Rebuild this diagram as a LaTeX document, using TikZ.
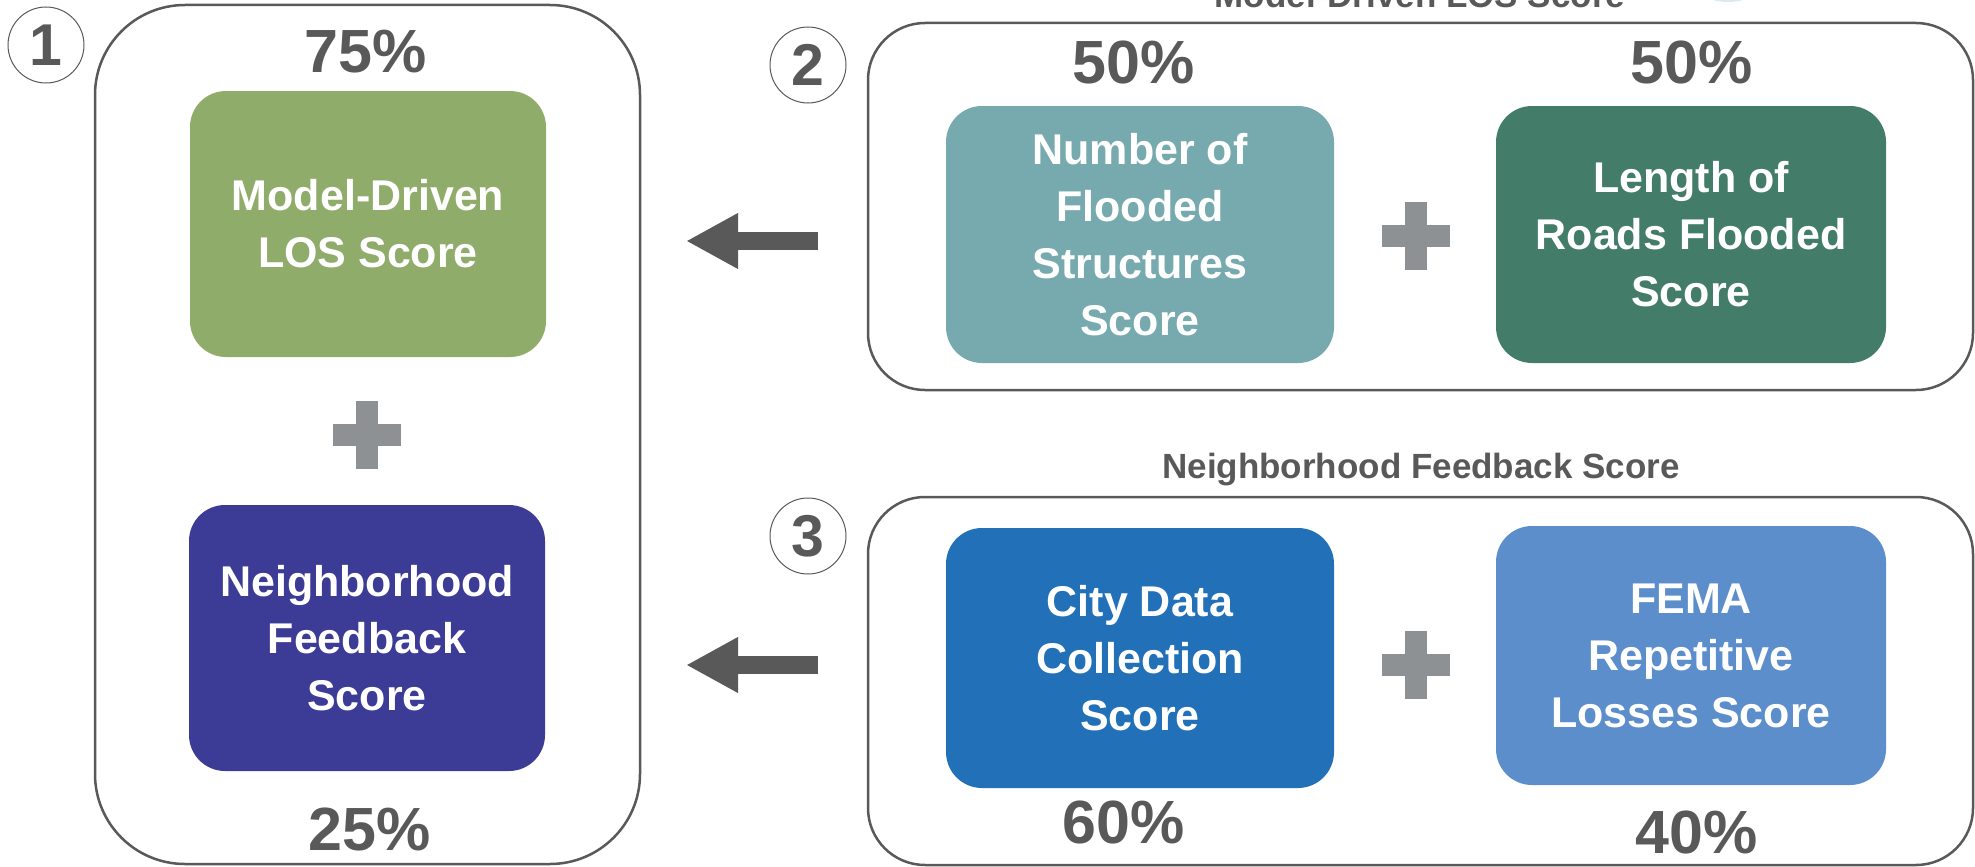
\documentclass[tikz,border=0pt]{standalone}
\usepackage{fontspec}
\setmainfont{Liberation Sans}
\usetikzlibrary{arrows.meta}

\definecolor{inkgray}{HTML}{595959}
\definecolor{plusgray}{HTML}{8E9194}
\definecolor{losgreen}{HTML}{8FAC6B}
\definecolor{nbpurple}{HTML}{3C3B96}
\definecolor{structteal}{HTML}{76AAAE}
\definecolor{roadgreen}{HTML}{437D6A}
\definecolor{cityblue}{HTML}{2170B8}
\definecolor{femablue}{HTML}{5B8ECB}
\definecolor{paleblue}{HTML}{DCE7F3}

\tikzset{
  frame/.style={draw=inkgray, line width=2.5pt, rounded corners=#1, inner sep=0pt},
  scorebox/.style={fill=#1, text=white, rounded corners=36pt, inner sep=0pt,
    align=center, font=\fontsize{43}{57}\selectfont\bfseries},
  pct/.style={text=inkgray, anchor=base, inner sep=0pt,
    font=\fontsize{61}{61}\selectfont\bfseries},
  heading/.style={text=inkgray, anchor=base, inner sep=0pt,
    font=\fontsize{35}{35}\selectfont\bfseries},
  stepnum/.style={circle, draw=inkgray, line width=1pt, minimum size=76pt, inner sep=0pt,
    text=inkgray, font=\fontsize{59}{59}\selectfont\bfseries},
  blockarrow/.style={draw=inkgray, line width=18pt,
    -{Triangle[length=52pt, width=52pt]}},
  plussign/.pic={
    \fill[plusgray] (-34,-11) rectangle (34,11);
    \fill[plusgray] (-11,-34) rectangle (11,34);
  }
}

\begin{document}
\begin{tikzpicture}[x=1pt, y=-1pt]
  \useasboundingbox (0,0) rectangle (1975,867);

  % faint disc peeking in at the top edge
  \fill[paleblue] (1728,-55) circle (57);

  % overall score panel
  \node[frame=90pt, minimum width=545pt, minimum height=859pt] (box1) at (367.5,434.5) {};
  \node[stepnum] (n1) at (46,45) {1};
  \node[pct] (p75) at (366,72) {75\%};
  \node[scorebox=losgreen, minimum width=356pt, minimum height=266pt] (los) at (368,224)
    {Model-Driven\\LOS Score};
  \pic at (367,435) {plussign};
  \node[scorebox=nbpurple, minimum width=356pt, minimum height=266pt] (nbh) at (367,638)
    {Neighborhood\\Feedback\\Score};
  \node[pct] (p25) at (370,850) {25\%};

  % model-driven LOS panel
  \node[heading] (t2) at (1420,8) {Model-Driven LOS Score};
  \node[frame=57pt, minimum width=1105pt, minimum height=367pt] (box2) at (1420.5,206.5) {};
  \node[stepnum] (n2) at (808,65) {2};
  \node[pct] (p50a) at (1134,83) {50\%};
  \node[pct] (p50b) at (1692,83) {50\%};
  \node[scorebox=structteal, minimum width=388pt, minimum height=257pt] (struct) at (1140,234.5)
    {Number of\\Flooded\\Structures\\Score};
  \pic at (1416,236) {plussign};
  \node[scorebox=roadgreen, minimum width=390pt, minimum height=257pt] (roads) at (1691,234.5)
    {Length of\\Roads Flooded\\Score};

  % neighborhood feedback panel
  \node[heading] (t3) at (1421,478) {Neighborhood Feedback Score};
  \node[frame=57pt, minimum width=1105pt, minimum height=368pt] (box3) at (1420.5,681) {};
  \node[stepnum] (n3) at (808,536) {3};
  \node[scorebox=cityblue, minimum width=388pt, minimum height=260pt] (city) at (1140,658)
    {City Data\\Collection\\Score};
  \pic at (1416,665) {plussign};
  \node[scorebox=femablue, minimum width=390pt, minimum height=259pt] (fema) at (1691,655.5)
    {FEMA\\Repetitive\\Losses Score};
  \node[pct] (p60) at (1124,843) {60\%};
  \node[pct] (p40) at (1697,853) {40\%};

  % arrows feeding the panels into the overall score
  \coordinate (a1from) at (818,241);
  \coordinate (a1to) at (686,241);
  \coordinate (a2from) at (818,665);
  \coordinate (a2to) at (686,665);
  \draw[blockarrow] (a1from) -- (a1to);
  \draw[blockarrow] (a2from) -- (a2to);
\end{tikzpicture}
\end{document}
